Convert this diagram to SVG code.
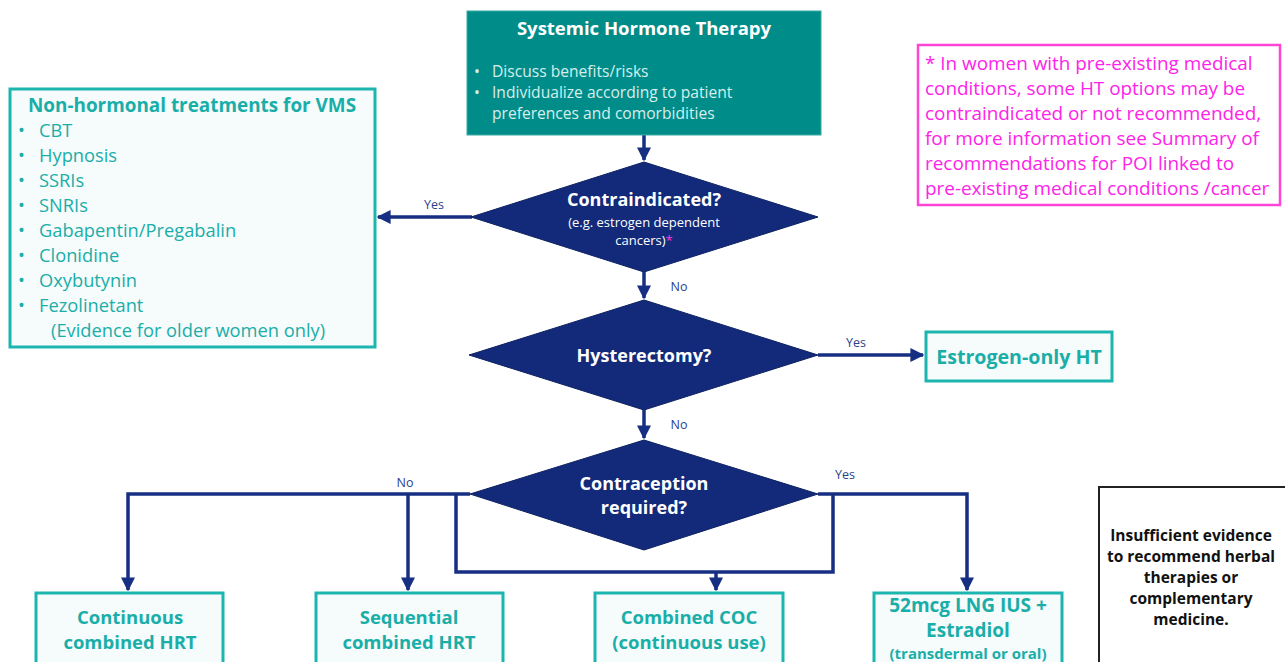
<svg xmlns="http://www.w3.org/2000/svg" width="1285" height="662" viewBox="0 0 1285 662">
<defs>
<marker id="ah" viewBox="0 0 10 10" refX="9" refY="5" markerWidth="4" markerHeight="4" markerUnits="strokeWidth" orient="auto">
<path d="M0,0 L10,5 L0,10 z" fill="#172F82"/>
</marker>
</defs>
<style>
text{font-family:"Open Sans","Noto Sans","Liberation Sans",sans-serif}
.dia{fill:#122A79;stroke:#0E2262;stroke-width:1}
.dtx{fill:#fff;font-weight:bold;font-size:18px;text-anchor:middle}
.box{fill:#F6FBFC;stroke:#1DB5AF;stroke-width:3}
.btx{fill:#1AAEA8;font-weight:bold;font-size:18.5px;text-anchor:middle}
.ltx{fill:#1AAEA8;font-size:18.3px}
.con{fill:none;stroke:#172F82;stroke-width:3.5}
.lab{fill:#2A3F8C;font-size:12.5px;text-anchor:middle}
.mg{fill:#FF22E8;font-size:18.9px}
</style>
<g id="connectors">
<path class="con" d="M644,135 V160" marker-end="url(#ah)"/>
<path class="con" d="M472,217 H378" marker-end="url(#ah)"/>
<path class="con" d="M644,272 V298" marker-end="url(#ah)"/>
<path class="con" d="M818,355 H923" marker-end="url(#ah)"/>
<path class="con" d="M644,410 V438" marker-end="url(#ah)"/>
<path class="con" d="M470,494 H128 V590" marker-end="url(#ah)"/>
<path class="con" d="M408,494 V590" marker-end="url(#ah)"/>
<path class="con" d="M456,494 V572 H833 V494"/>
<path class="con" d="M716,572 V590" marker-end="url(#ah)"/>
<path class="con" d="M818,494 H967 V590" marker-end="url(#ah)"/>
<text class="lab" x="434" y="209">Yes</text>
<text class="lab" x="679" y="291">No</text>
<text class="lab" x="856" y="347">Yes</text>
<text class="lab" x="679" y="429">No</text>
<text class="lab" x="405" y="487">No</text>
<text class="lab" x="845" y="479">Yes</text>
</g>
<g id="systemic">
<rect x="467" y="11" width="354" height="124" fill="#008D8A" stroke="#3AA9A5" stroke-width="1"/>
<text x="644" y="35" fill="#fff" font-weight="bold" font-size="18.5" text-anchor="middle">Systemic Hormone Therapy</text>
<g fill="#D6EEEC" font-size="15.6">
<text x="474" y="77">•</text><text x="492" y="77">Discuss benefits/risks</text>
<text x="474" y="98">•</text><text x="492" y="98">Individualize according to patient</text>
<text x="492" y="119">preferences and comorbidities</text>
</g>
</g>
<g id="note">
<rect x="918" y="45" width="362" height="160" fill="#fff" stroke="#FF44D8" stroke-width="2.5"/>
<text class="mg" x="925" y="70">* In women with pre-existing medical</text>
<text class="mg" x="925" y="95">conditions, some HT options may be</text>
<text class="mg" x="925" y="120">contraindicated or not recommended,</text>
<text class="mg" x="925" y="145">for more information see Summary of</text>
<text class="mg" x="925" y="170">recommendations for POI linked to</text>
<text class="mg" x="925" y="195">pre-existing medical conditions /cancer</text>
</g>
<g id="nonhormonal">
<rect class="box" x="10" y="89" width="365" height="258"/>
<text class="btx" x="192" y="112" style="font-size:18.9px">Non-hormonal treatments for VMS</text>
<g class="ltx">
<text x="18" y="137">•</text><text x="39" y="137">CBT</text>
<text x="18" y="162">•</text><text x="39" y="162">Hypnosis</text>
<text x="18" y="187">•</text><text x="39" y="187">SSRIs</text>
<text x="18" y="212">•</text><text x="39" y="212">SNRIs</text>
<text x="18" y="237">•</text><text x="39" y="237">Gabapentin/Pregabalin</text>
<text x="18" y="262">•</text><text x="39" y="262">Clonidine</text>
<text x="18" y="287">•</text><text x="39" y="287">Oxybutynin</text>
<text x="18" y="312">•</text><text x="39" y="312">Fezolinetant</text>
<text x="51" y="337">(Evidence for older women only)</text>
</g>
</g>
<g id="contraindicated">
<polygon class="dia" points="644,162 818,217 644,272 471,217"/>
<text class="dtx" x="644" y="206">Contraindicated?</text>
<text x="644" y="227" fill="#fff" font-size="13" text-anchor="middle">(e.g. estrogen dependent</text>
<text x="644" y="245" fill="#fff" font-size="13" text-anchor="middle">cancers)<tspan fill="#FF3CE0">*</tspan></text>
</g>
<g id="hysterectomy">
<polygon class="dia" points="644,300 818,355 644,410 469,355"/>
<text class="dtx" x="644" y="362">Hysterectomy?</text>
</g>
<g id="estrogen">
<rect class="box" x="926" y="332" width="186" height="49"/>
<text class="btx" x="1019" y="364" style="font-size:19.6px">Estrogen-only HT</text>
</g>
<g id="contraception">
<polygon class="dia" points="644,440 818,494 644,550 470,494"/>
<text class="dtx" x="644" y="490">Contraception</text>
<text class="dtx" x="644" y="514">required?</text>
</g>
<g id="continuous">
<rect class="box" x="36" y="593" width="187" height="80"/>
<text class="btx" x="130" y="624">Continuous</text>
<text class="btx" x="130" y="649">combined HRT</text>
</g>
<g id="sequential">
<rect class="box" x="316" y="593" width="187" height="80"/>
<text class="btx" x="409" y="624">Sequential</text>
<text class="btx" x="409" y="649">combined HRT</text>
</g>
<g id="coc">
<rect class="box" x="595" y="593" width="188" height="80"/>
<text class="btx" x="689" y="624">Combined COC</text>
<text class="btx" x="689" y="649">(continuous use)</text>
</g>
<g id="lng">
<rect class="box" x="874" y="593" width="188" height="80"/>
<text class="btx" x="968" y="612" style="font-size:19px">52mcg LNG IUS +</text>
<text class="btx" x="968" y="637" style="font-size:19px">Estradiol</text>
<text class="btx" x="968" y="659" style="font-size:15px">(transdermal or oral)</text>
</g>
<g id="insufficient">
<rect x="1099" y="487" width="200" height="190" fill="#fff" stroke="#222" stroke-width="2"/>
<g fill="#111" font-weight="bold" font-size="15.5" text-anchor="middle">
<text x="1191" y="541">Insufficient evidence</text>
<text x="1191" y="562">to recommend herbal</text>
<text x="1191" y="583">therapies or</text>
<text x="1191" y="604">complementary</text>
<text x="1191" y="625">medicine.</text>
</g>
</g>
</svg>
